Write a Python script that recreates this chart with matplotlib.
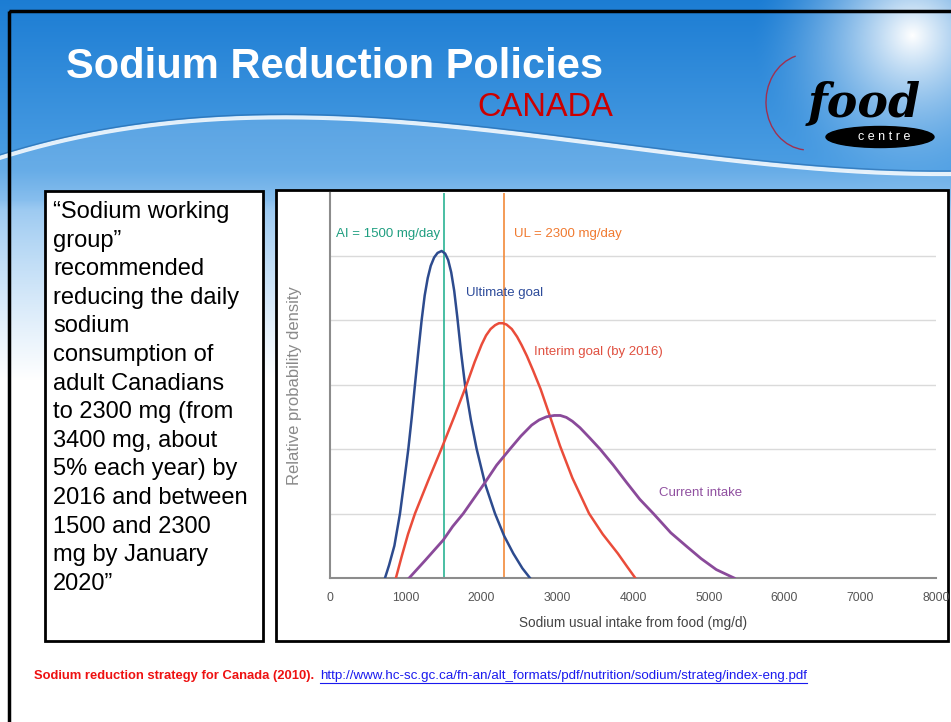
import numpy as np
import matplotlib.pyplot as plt
from matplotlib.patches import Rectangle, Ellipse, Arc

# ---- data ----
ultimate_x = [726, 780, 850, 924, 980, 1034, 1080, 1122, 1165, 1210, 1250, 1290, 1330, 1375, 1420,
              1474, 1520, 1560, 1600, 1640, 1680, 1730, 1782, 1860, 1936, 2050, 2178, 2300, 2420,
              2540, 2640]
ultimate_y = [0, 0.2, 0.5, 1.0, 1.5, 2.0, 2.5, 3.0, 3.5, 4.0, 4.38, 4.65, 4.84, 4.97, 5.04,
              5.07, 5.03, 4.93, 4.74, 4.45, 4.05, 3.5, 3.0, 2.45, 2.0, 1.45, 1.0, 0.65, 0.38,
              0.15, 0]

interim_x = [870, 950, 1030, 1122, 1300, 1470, 1640, 1804, 1910, 2002, 2060, 2120, 2180, 2230,
             2280, 2330, 2400, 2470, 2530, 2600, 2680, 2780, 2900, 3036, 3200, 3420, 3600, 3800,
             3920, 4030]
interim_y = [0, 0.35, 0.68, 1.0, 1.52, 2.0, 2.5, 3.0, 3.35, 3.62, 3.76, 3.86, 3.92, 3.95,
             3.95, 3.93, 3.86, 3.74, 3.61, 3.44, 3.22, 2.93, 2.52, 2.05, 1.55, 1.0, 0.68, 0.38,
             0.18, 0]

current_x = [1045, 1254, 1496, 1620, 1760, 2046, 2200, 2376, 2520, 2662, 2760, 2860, 2960, 3040,
             3120, 3200, 3300, 3430, 3564, 3740, 3916, 4090, 4268, 4500, 4708, 4900, 5100, 5335]
current_y = [0, 0.27, 0.59, 0.8, 1.0, 1.48, 1.75, 2.0, 2.2, 2.37, 2.45, 2.5, 2.52, 2.52,
             2.49, 2.43, 2.33, 2.17, 2.0, 1.75, 1.48, 1.22, 1.0, 0.7, 0.49, 0.3, 0.13, 0]

ai_value = 1500
ul_value = 2300
x_ticks = [0, 1000, 2000, 3000, 4000, 5000, 6000, 7000, 8000]
grid_levels = [1, 2, 3, 4, 5]

box_lines = ["\u201cSodium working", "group\u201d", "recommended", "reducing the daily",
             "sodium", "consumption of", "adult Canadians", "to 2300 mg (from",
             "3400 mg, about", "5% each year) by", "2016 and between", "1500 and 2300",
             "mg by January", "2020\u201d"]

W, H = 951, 722
plt.rcParams['font.family'] = ['Liberation Sans', 'DejaVu Sans']

fig = plt.figure(figsize=(W / 100, H / 100), dpi=100)

# ---- slide background ----
bg = fig.add_axes([0, 0, 1, 1])
bg.set_xlim(0, W)
bg.set_ylim(H, 0)
bg.axis('off')

yy, xx = np.mgrid[0:H, 0:W].astype(float)
top = np.array([0.11, 0.49, 0.83])
mid = np.array([0.30, 0.62, 0.89])
low = np.array([0.50, 0.73, 0.93])
white = np.array([1.0, 1.0, 1.0])
t1 = np.clip(yy / 170, 0, 1)[..., None]
img = top * (1 - t1) + mid * t1
t2 = np.clip((yy - 170) / 40, 0, 1)[..., None]
img = img * (1 - t2) + low * t2
t3 = np.clip((yy - 200) / 180, 0, 1)[..., None] ** 0.8
img = img * (1 - t3) + white * t3
# decorative wave through a few hand-placed points
wave_pts_x = [9, 243, 485, 728, 951]
wave_pts_y = [155, 118, 130, 160, 174]
wave_x = np.arange(W)
wave_y = np.polyval(np.polyfit(wave_pts_x, wave_pts_y, 4), wave_x)
below = (yy > wave_y[None, :])
lift = np.where(below, 0.15, 0.0)[..., None]
img = img * (1 - lift) + white * lift
# sun glow top-right
r = np.hypot(xx - 912, yy - 35)
glow = np.clip(1 - r / 160, 0, 1)[..., None] ** 1.5
img = img * (1 - glow) + white * glow
bg.imshow(np.clip(img, 0, 1), extent=(0, W, H, 0), aspect='auto', zorder=0)
bg.plot(wave_x, wave_y, color='white', lw=3, alpha=0.85, zorder=1)
bg.plot(wave_x, wave_y - 3, color='#1f5f9f', lw=1, alpha=0.5, zorder=1)

# slide border
bg.add_patch(Rectangle((9, 11), W, H, fill=False, ec='black', lw=2.5, zorder=2))

# title
bg.text(66, 67, "Sodium Reduction Policies", color='white', fontsize=30,
        fontweight='bold', va='center', ha='left', zorder=3)
bg.text(613, 107, "CANADA", color='#cc0000', fontsize=23.5,
        va='center', ha='right', zorder=3)

# logo
bg.add_patch(Arc((808, 102), 84, 96, theta1=95, theta2=255, color='#a03050', lw=1, zorder=3))
bg.text(864, 104, "food", fontsize=33, family='DejaVu Serif', style='italic',
        fontweight='bold', color='black', ha='center', va='center', zorder=3)
bg.add_patch(Ellipse((880, 137), 108, 21, color='black', zorder=3))
bg.text(884, 137, "c e n t r e", fontsize=9, color='white', ha='center', va='center',
        zorder=4)

# left text box
bg.add_patch(Rectangle((45, 191), 218, 450, fc='white', ec='black', lw=2, zorder=2))
for i, line in enumerate(box_lines):
    bg.text(53, 212 + i * 28.6, line, fontsize=17, color='black', va='center',
            ha='left', zorder=3)

# chart panel
bg.add_patch(Rectangle((276, 190), 672, 451, fc='white', ec='black', lw=2, zorder=2))

# footer
cite = bg.text(34, 676, "Sodium reduction strategy for Canada (2010).", color='#ee1111',
               fontsize=9.4, fontweight='bold', va='center', ha='left', zorder=3)
url = bg.text(320, 676, "http://www.hc-sc.gc.ca/fn-an/alt_formats/pdf/nutrition/sodium/strateg/index-eng.pdf",
              color='#1a1aee', fontsize=9.6, va='center', ha='left', zorder=3)
fig.canvas.draw()
bb = url.get_window_extent()
url_end = bg.transData.inverted().transform((bb.x1, bb.y0))[0]
bg.plot([320, url_end], [682.5, 682.5], color='#1a1aee', lw=0.8, zorder=3)

# ---- chart ----
x0, x1, yb, yt = 330, 936, 578, 193
ax = fig.add_axes([x0 / W, 1 - yb / H, (x1 - x0) / W, (yb - yt) / H])
ax.patch.set_alpha(0)
ax.set_xlim(0, 8000)
ax.set_ylim(0, (yb - yt) / 64.5)

for g in grid_levels:
    ax.axhline(g, color='#dadada', lw=1, zorder=1)

ax.axvline(ai_value, color='#2ab394', lw=1.2, zorder=2)
ax.axvline(ul_value, color='#f28a3a', lw=1.2, zorder=2)

ax.plot(ultimate_x, ultimate_y, color='#2d4b8e', lw=1.8, zorder=3, solid_joinstyle='round')
ax.plot(interim_x, interim_y, color='#ea4c3a', lw=1.8, zorder=3, solid_joinstyle='round')
ax.plot(current_x, current_y, color='#8a4a9a', lw=2.0, zorder=3, solid_joinstyle='round')

ax.text(1450, 5.34, "AI = 1500 mg/day", color='#1f9e80', fontsize=9.5,
        ha='right', va='center')
ax.text(2430, 5.34, "UL = 2300 mg/day", color='#f07a30', fontsize=9.5,
        ha='left', va='center')
ax.text(1795, 4.42, "Ultimate goal", color='#2d4b9a', fontsize=9.5,
        ha='left', va='center')
ax.text(2690, 3.5, "Interim goal (by 2016)", color='#e05040', fontsize=9.5,
        ha='left', va='center')
ax.text(4340, 1.32, "Current intake", color='#9050a0', fontsize=9.5,
        ha='left', va='center')

for s in ['top', 'right']:
    ax.spines[s].set_visible(False)
ax.spines['left'].set_color('#8c8c8c')
ax.spines['bottom'].set_color('#8c8c8c')
ax.spines['left'].set_linewidth(1.5)
ax.spines['bottom'].set_linewidth(1.5)
ax.set_yticks([])
ax.set_xticks(x_ticks)
ax.set_xticklabels([str(v) for v in x_ticks], fontsize=8.8, color='#555555')
ax.tick_params(axis='x', length=0, pad=10)
ax.set_xlabel("Sodium usual intake from food (mg/d)", fontsize=9.8,
              color='#444444', labelpad=9)
ax.set_ylabel("Relative probability density", fontsize=12, color='#8a8a8a', labelpad=20)

fig.savefig('out.png', dpi=100)
